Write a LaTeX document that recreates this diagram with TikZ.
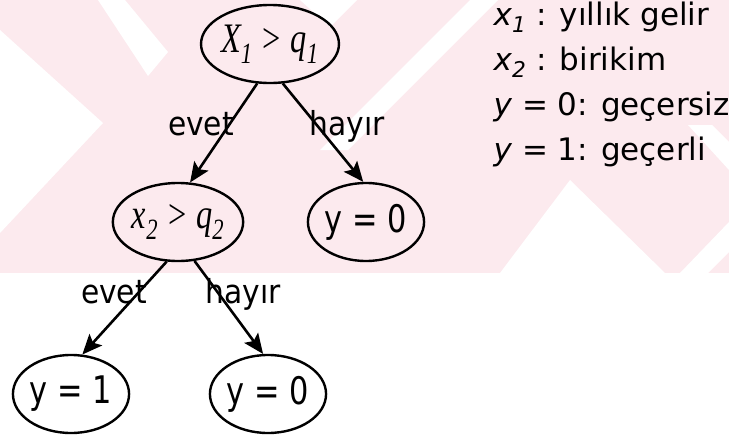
\documentclass[tikz,border=0pt]{standalone}
\usepackage{fontspec}
\setmainfont{DejaVu Sans}
\newfontfamily\treefont[FakeStretch=0.8]{DejaVu Sans}
\newfontfamily\edgefont[FakeStretch=0.9]{DejaVu Sans}
\newfontfamily\condfont[FakeStretch=0.77]{Liberation Serif}
\usetikzlibrary{shapes.geometric,arrows.meta}
\definecolor{wmpink}{RGB}{252,234,238}

\begin{document}
\begin{tikzpicture}[x=1pt,y=-1pt,
  cond/.style={draw,ellipse,line width=2.4pt,minimum width=116pt,minimum height=78pt,inner sep=0pt,
    font=\condfont\itshape\fontsize{42}{42}\selectfont},
  leaf/.style={cond,font=\treefont\fontsize{38}{38}\selectfont},
  arr/.style={line width=2.6pt,-{Stealth[length=20pt,width=17pt,inset=4pt]}},
  lbl/.style={anchor=base,font=\edgefont\fontsize{33}{33}\selectfont},
  key/.style={anchor=base west,font=\fontsize{31}{31}\selectfont}]
\useasboundingbox (0,0) rectangle (729,439);

% pale band behind the tree
\fill[wmpink] (0,0) rectangle (729,273);
\fill[white] (0,30) -- (103,123) -- (0,233) -- cycle;
\fill[white] (98,0) -- (125,0) -- (168,52) -- (148,76) -- cycle;
\fill[white] (300,0) -- (357,0) -- (330,27) -- cycle;
\fill[white] (470,0) -- (498,0) -- (348,150) -- (320,150) -- cycle;
\fill[white] (500,273) -- (570,180) -- (665,273) -- cycle;
\fill[white] (680,273) -- (729,222) -- (729,252) -- (708,273) -- cycle;
\fill[white] (688,125) -- (712,125) -- (729,142) -- (729,170) -- cycle;

% tree
\node[cond] (n1) at (270,44) {X\textsubscript{1} > q\textsubscript{1}};
\node[cond] (n2) at (178,222) {x\textsubscript{2} > q\textsubscript{2}};
\node[leaf] (n3) at (366,222) {y = 0};
\node[leaf] (n4) at (71,394) {y = 1};
\node[leaf] (n5) at (268,394) {y = 0};

\node[lbl] (e1) at (201,135) {evet};
\node[lbl] (e2) at (347,135) {hayır};
\node[lbl] (e3) at (114,303) {evet};
\node[lbl] (e4) at (243,303) {hayır};

\draw[arr] (n1.252) -- (n2.73);
\draw[arr] (n1.288) -- (n3.94);
\draw[arr] (n2.254) -- (n4.74);
\draw[arr] (n2.293) -- (n5.97);

% legend
\node[key] (k1) at (490,25) {\textit{x}\textsubscript{\textit{1}} : yıllık gelir};
\node[key] (k2) at (490,70) {\textit{x}\textsubscript{\textit{2}} : birikim};
\node[key] (k3) at (490,115) {\textit{y} = 0: geçersiz};
\node[key] (k4) at (490,160) {\textit{y} = 1: geçerli};
\end{tikzpicture}
\end{document}
